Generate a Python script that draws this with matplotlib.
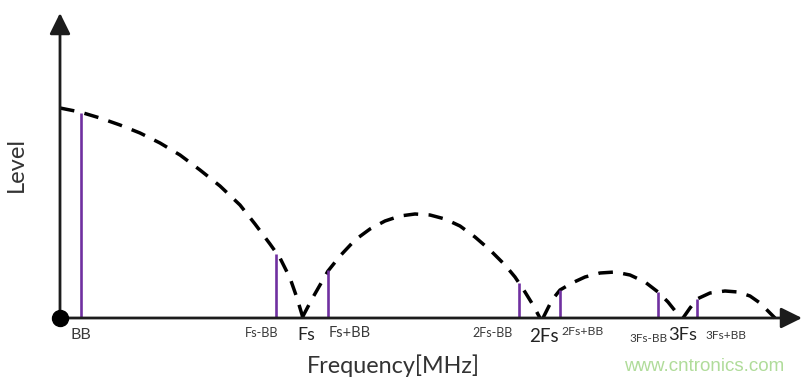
import matplotlib
matplotlib.use("Agg")
import matplotlib.pyplot as plt
from matplotlib.patches import ArrowStyle

# ---- data (frequency in arbitrary schematic units, level in arbitrary units) ----
spur_labels = ["BB", "Fs-BB", "Fs+BB", "2Fs-BB", "2Fs+BB", "3Fs-BB", "3Fs+BB"]
spur_freq = [21, 216, 268, 459, 500, 598, 637]
spur_level = [205, 64, 48, 35, 28, 26, 19]

# sinc-like envelope lobes
lobe1_f = [0, 20, 40, 60, 80, 100, 120, 140, 160, 180, 195, 210, 220, 230, 237, 243]
lobe1_l = [210, 206, 200, 193, 185, 175, 163, 148, 132, 113, 94, 74, 60, 40, 20, 0]
lobe2_f = [242, 252, 260, 268, 280, 295, 310, 325, 340, 355, 370, 385, 400, 415, 430, 445, 455, 465, 473, 480]
lobe2_l = [0, 19, 33, 47, 62, 78, 89, 97, 102, 104, 103, 99, 92, 81, 68, 53, 41, 26, 13, 0]
lobe3_f = [483, 492, 500, 512, 525, 540, 555, 570, 585, 598, 608, 616, 621]
lobe3_l = [0, 18, 28, 35, 41, 45, 46, 43, 36, 26, 16, 6, 0]
lobe4_f = [623, 630, 637, 650, 665, 678, 690, 700, 708, 715]
lobe4_l = [0, 10, 19, 25, 27, 26, 22, 15, 7, 0]

fs_labels = ["Fs", "2Fs", "3Fs"]

W, H = 805, 381
fig = plt.figure(figsize=(W / 100, H / 100), dpi=100)
ax = fig.add_axes([0, 0, 1, 1])
OX, OY = 60, 318  # pixel position of the origin
ax.set_xlim(-OX, W - OX)
ax.set_ylim(OY - H, OY)
ax.axis("off")


def P(x, y):
    """pixel position -> data position (layout helper for text)"""
    return x - OX, OY - y


axis_col = "#1c1c1c"
purple = "#7030a0"

# envelope (dashed)
for f, l in [(lobe1_f, lobe1_l), (lobe2_f, lobe2_l), (lobe3_f, lobe3_l), (lobe4_f, lobe4_l)]:
    ax.plot(f, l, color="black", lw=2.5, linestyle=(0, (4.2, 3.0)), solid_capstyle="butt", zorder=3)

# spurs (purple lines)
ax.vlines(spur_freq, 0, spur_level, colors=purple, lw=1.9, zorder=4)

# axes with arrows
style = ArrowStyle("-|>", head_length=0.85, head_width=0.42)
ax.annotate("", xy=(742, 0), xytext=(0, 0),
            arrowprops=dict(arrowstyle=style, lw=2.0, color=axis_col, mutation_scale=15,
                            shrinkA=0, shrinkB=0), zorder=5)
ax.annotate("", xy=(0, 305), xytext=(0, 0),
            arrowprops=dict(arrowstyle=style, lw=2.0, color=axis_col, mutation_scale=15,
                            shrinkA=0, shrinkB=0), zorder=5)
ax.plot([0], [0], "o", color="black", ms=11.5, zorder=6)

font = "Lato"
txt_col = "#3a3a3a"

# spur labels
spur_lab_pos = [(81, 339, 11.5), (262, 337, 9.2), (350, 337, 10.5), (493, 337, 9.0),
                (583, 335, 8.8), (648, 342, 8.5), (726, 339, 8.6)]
for lab, (x, y, s) in zip(spur_labels, spur_lab_pos):
    ax.text(*P(x, y), lab, ha="center", va="baseline", fontsize=s, color=txt_col, family=font)

fs_lab_pos = [(306, 340, 12.8), (544, 342, 13.5), (683, 340, 13.2)]
for lab, (x, y, s) in zip(fs_labels, fs_lab_pos):
    ax.text(*P(x, y), lab, ha="center", va="baseline", fontsize=s, color="#222222", family=font)

ax.text(*P(393, 373), "Frequency[MHz]", ha="center", va="baseline", fontsize=16.8,
        color="#333333", family=font)
ax.text(*P(16, 164), "Level", ha="center", va="center", rotation=90, fontsize=17,
        color="#333333", family=font)

ax.text(*P(704, 371), "www.cntronics.com", ha="center", va="baseline", fontsize=13.5,
        color="#b0dc9a", family="Liberation Sans")

fig.savefig("out.png", dpi=100)
